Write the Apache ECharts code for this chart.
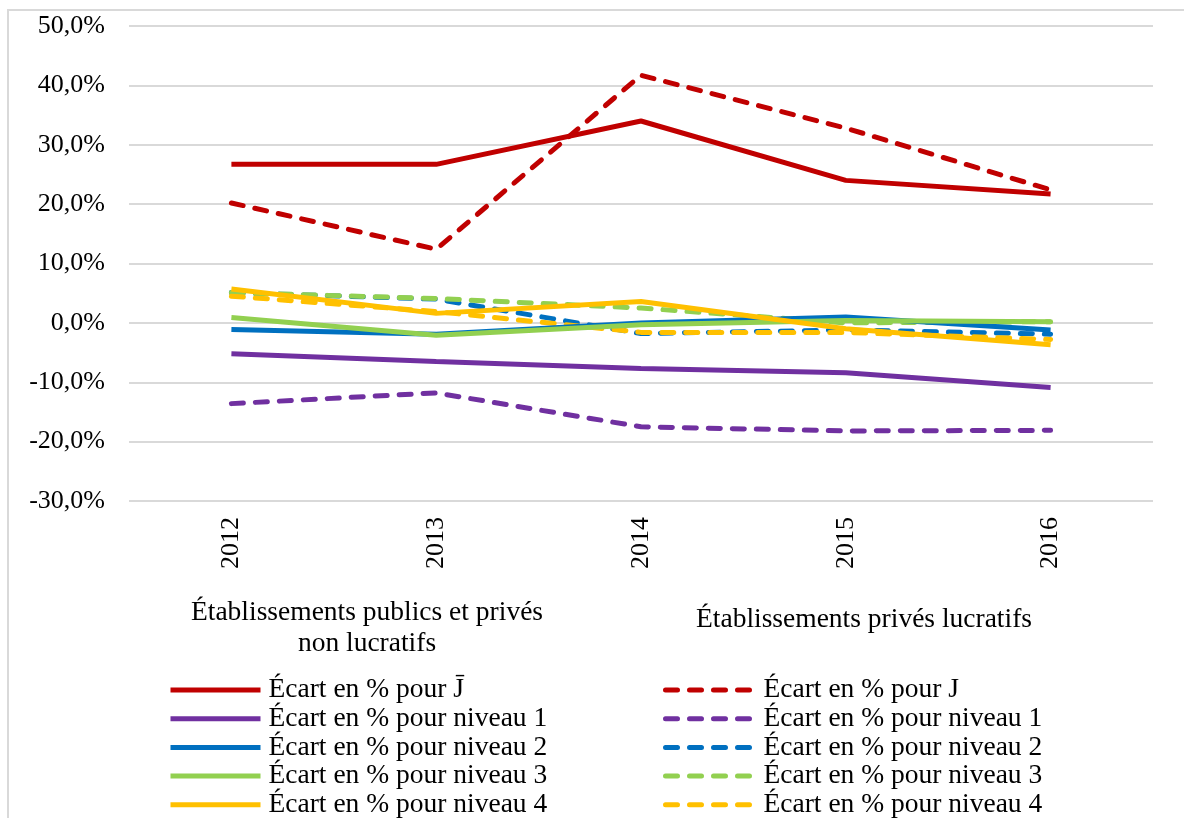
<!DOCTYPE html>
<html>
<head>
<meta charset="utf-8">
<script src="https://cdn.jsdelivr.net/npm/echarts@6/dist/echarts.min.js"></script>
<style>
  html, body { margin: 0; padding: 0; background: #fff; }
  #chart { width: 1184px; height: 818px; }
</style>
</head>
<body>
<div id="chart"></div>
<script>
// années
var years = ['2012', '2013', '2014', '2015', '2016'];

// établissements publics et privés non lucratifs (traits pleins)
var pubJ  = [26.7, 26.7, 34.0, 24.0, 21.7];
var pubN1 = [-5.2, -6.5, -7.7, -8.4, -10.9];
var pubN2 = [-1.1, -1.9, 0.0, 1.0, -1.2];
var pubN3 = [0.9, -2.1, -0.3, 0.4, 0.2];
var pubN4 = [5.7, 1.6, 3.6, -1.0, -3.7];

// établissements privés lucratifs (pointillés)
var privJ  = [20.2, 12.4, 41.7, 32.8, 22.4];
var privN1 = [-13.6, -11.8, -17.5, -18.2, -18.1];
var privN2 = [5.1, 4.0, -1.8, -1.2, -1.9];
var privN3 = [5.1, 4.1, 2.5, 0.0, 0.2];
var privN4 = [4.5, 1.9, -1.6, -1.6, -2.8];

var yTicks = { min: -30, max: 50, interval: 10 };

var colors = ['#C00000', '#7030A0', '#0070C0', '#92D050', '#FFC000'];
var labels = ['Écart en % pour J\u0304', 'Écart en % pour niveau 1', 'Écart en % pour niveau 2',
              'Écart en % pour niveau 3', 'Écart en % pour niveau 4'];
var labelsPriv = ['Écart en % pour J', 'Écart en % pour niveau 1', 'Écart en % pour niveau 2',
                  'Écart en % pour niveau 3', 'Écart en % pour niveau 4'];
var SUFFIX = ' (lucratifs)';

var FONT = '"Liberation Serif", "DejaVu Serif", serif';

var pubData = [pubJ, pubN1, pubN2, pubN3, pubN4];
var privData = [privJ, privN1, privN2, privN3, privN4];

function serie(name, data, color, dashed) {
    return {
        name: name,
        type: 'line',
        data: data,
        symbol: 'none',
        lineStyle: {
            color: color,
            width: 5,
            type: dashed ? [12, 12] : 'solid',
            cap: dashed ? 'round' : 'butt'
        },
        itemStyle: { color: color }
    };
}

var series = [];
privData.forEach(function (d, i) { series.push(serie(labelsPriv[i] + SUFFIX, d, colors[i], true)); });
pubData.forEach(function (d, i) { series.push(serie(labels[i], d, colors[i], false)); });

function legend(left, names) {
    return {
        orient: 'vertical',
        left: left,
        top: 676,
        height: 160,
        padding: 0,
        itemWidth: 90,
        itemHeight: 10,
        itemGap: 0.7,
        selectedMode: false,
        data: names,
        itemStyle: { opacity: 0 },
        lineStyle: { width: 5, opacity: 1 },
        formatter: function (n) { return n.replace(SUFFIX, ''); },
        textStyle: { fontFamily: FONT, fontSize: 27.5, lineHeight: 24, color: '#000', padding: [0, 0, 0, 3] }
    };
}

var myChart = echarts.init(document.getElementById('chart'));
myChart.setOption({
    animation: false,
    backgroundColor: '#fff',
    grid: { left: 129, right: 31, top: 26, bottom: 317 },
    legend: [
        legend(168, labels),
        legend(663, labelsPriv.map(function (n) { return n + SUFFIX; }))
    ],
    xAxis: {
        type: 'category',
        data: years,
        boundaryGap: true,
        axisLine: { show: false },
        axisTick: { show: false },
        axisLabel: { rotate: 90, margin: 16, fontFamily: FONT, fontSize: 26, color: '#000' }
    },
    yAxis: {
        type: 'value',
        min: yTicks.min,
        max: yTicks.max,
        interval: yTicks.interval,
        axisLine: { show: false },
        axisTick: { show: false },
        splitLine: { lineStyle: { color: '#d9d9d9', width: 2 } },
        axisLabel: {
            margin: 24,
            fontFamily: FONT,
            fontSize: 26,
            color: '#000',
            formatter: function (v) { return v.toFixed(1).replace('.', ',') + '%'; }
        }
    },
    graphic: [
        {
            type: 'rect', silent: true, z: -1,
            shape: { x: 8, y: 10, width: 1300, height: 900 },
            style: { fill: null, stroke: '#d9d9d9', lineWidth: 2 }
        },
        {
            type: 'text', x: 367, y: 597,
            style: {
                text: 'Établissements publics et privés\nnon lucratifs',
                align: 'center',
                font: '27.5px ' + FONT,
                lineHeight: 31,
                fill: '#000'
            }
        },
        {
            type: 'text', x: 864, y: 606,
            style: {
                text: 'Établissements privés lucratifs',
                align: 'center',
                font: '27.5px ' + FONT,
                fill: '#000'
            }
        }
    ],
    series: series
});
</script>
</body>
</html>
